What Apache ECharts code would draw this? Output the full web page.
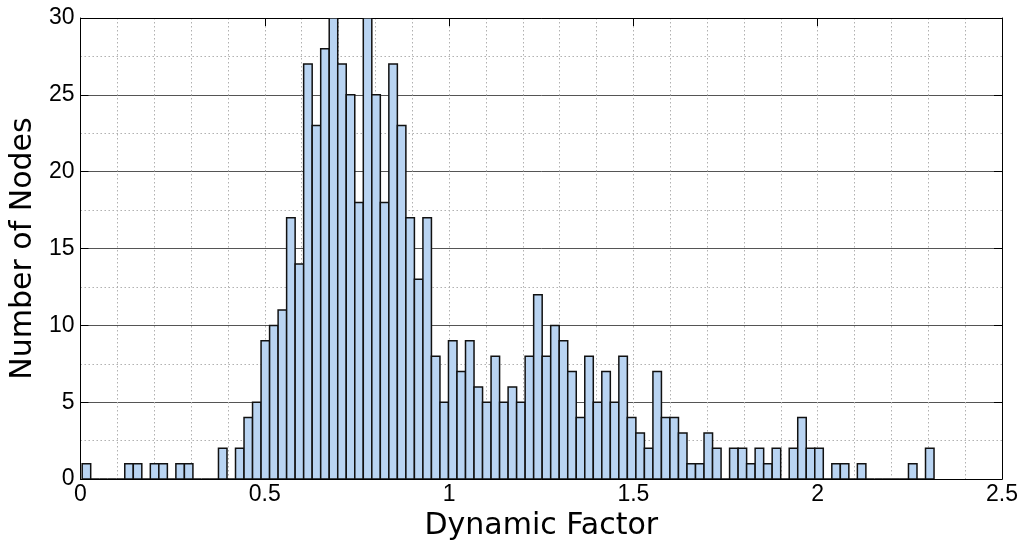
<!DOCTYPE html>
<html>
<head>
<meta charset="utf-8">
<script src="https://cdn.jsdelivr.net/npm/echarts@6/dist/echarts.min.js"></script>
<style>
html,body{margin:0;padding:0;background:#fff;}
#chart{width:1025px;height:546px;}
</style>
</head>
<body>
<div id="chart"></div>
<script>
// Histogram of dynamic factor: 100 equal-width bins
const binStart = 0.0046;
const binWidth = 0.02311;
const counts = [
  1,0,0,0,0,1,1,0,1,1,0,1,1,0,0,0,2,0,2,4,5,
  9,10,11,17,14,27,23,28,30,27,25,18,30,25,18,27,23,17,13,17,8,5,
  9,7,9,6,5,8,5,6,5,8,12,8,10,9,7,4,8,5,7,5,8,4,3,2,7,4,4,3,
  1,1,3,2,0,2,2,1,2,1,2,0,2,4,2,2,0,1,1,0,1,0,0,0,0,0,1,0,2
];
const xTicks = [0, 0.5, 1, 1.5, 2, 2.5];
const yTicks = [0, 5, 10, 15, 20, 25, 30];
const xTitle = 'Dynamic Factor';
const yTitle = 'Number of Nodes';

const data = counts.map((c, i) => [binStart + i * binWidth, binStart + (i + 1) * binWidth, c]);

const tickFont = {fontFamily: 'Liberation Sans, Arial, sans-serif', fontSize: 23, color: '#000'};
const nameFont = {fontFamily: 'DejaVu Sans, sans-serif', fontSize: 30, color: '#000'};

const chart = echarts.init(document.getElementById('chart'), null, {renderer: 'canvas'});
chart.setOption({
  animation: false,
  backgroundColor: '#fff',
  grid: {left: 78, right: 23, top: 18, bottom: 62, show: false},
  xAxis: [{
    type: 'value', min: xTicks[0], max: xTicks[xTicks.length - 1], interval: 0.5,
    name: xTitle, nameLocation: 'middle', nameGap: 25, nameTextStyle: nameFont,
    axisLine: {show: true, onZero: false, lineStyle: {color: '#000', width: 1}},
    axisTick: {show: true, inside: true, length: 8, lineStyle: {color: '#000'}},
    axisLabel: Object.assign({margin: 4, formatter: v => String(v)}, tickFont),
    splitLine: {show: true, lineStyle: {color: '#b0b0b0', type: [1.5, 2.5], width: 1}},
    minorTick: {show: false, splitNumber: 5},
    minorSplitLine: {show: true, lineStyle: {color: '#b0b0b0', type: [1.5, 2.5], width: 1}}
  }, {
    type: 'value', position: 'top', min: xTicks[0], max: xTicks[xTicks.length - 1], interval: 0.5,
    axisLine: {show: true, onZero: false, lineStyle: {color: '#000', width: 1}},
    axisTick: {show: true, inside: true, length: 8, lineStyle: {color: '#000'}},
    axisLabel: {show: false}, splitLine: {show: false}
  }],
  yAxis: [{
    type: 'value', min: yTicks[0], max: yTicks[yTicks.length - 1], interval: 5,
    name: yTitle, nameLocation: 'middle', nameGap: 36, nameTextStyle: nameFont,
    axisLine: {show: true, onZero: false, lineStyle: {color: '#000', width: 1}},
    axisTick: {show: true, inside: true, length: 8, lineStyle: {color: '#000'}},
    axisLabel: Object.assign({margin: 6}, tickFont),
    splitLine: {show: true, lineStyle: {color: '#555', type: 'solid', width: 1}},
    minorTick: {show: false, splitNumber: 2},
    minorSplitLine: {show: true, lineStyle: {color: '#b0b0b0', type: [1.5, 2.5], width: 1}}
  }, {
    type: 'value', position: 'right', min: yTicks[0], max: yTicks[yTicks.length - 1], interval: 5,
    axisLine: {show: true, onZero: false, lineStyle: {color: '#000', width: 1}},
    axisTick: {show: true, inside: true, length: 8, lineStyle: {color: '#000'}},
    axisLabel: {show: false}, splitLine: {show: false}
  }],
  series: [{
    type: 'custom',
    xAxisIndex: 0, yAxisIndex: 0,
    encode: {x: [0, 1], y: 2},
    data: data,
    clip: true,
    renderItem: function (params, api) {
      const p0 = api.coord([api.value(0), 0]);
      const p1 = api.coord([api.value(1), api.value(2)]);
      return {
        type: 'rect',
        shape: {x: p0[0], y: p1[1], width: p1[0] - p0[0], height: p0[1] - p1[1]},
        style: {fill: '#b9d4f2', stroke: '#111', lineWidth: 1.5}
      };
    }
  }]
});
</script>
</body>
</html>
